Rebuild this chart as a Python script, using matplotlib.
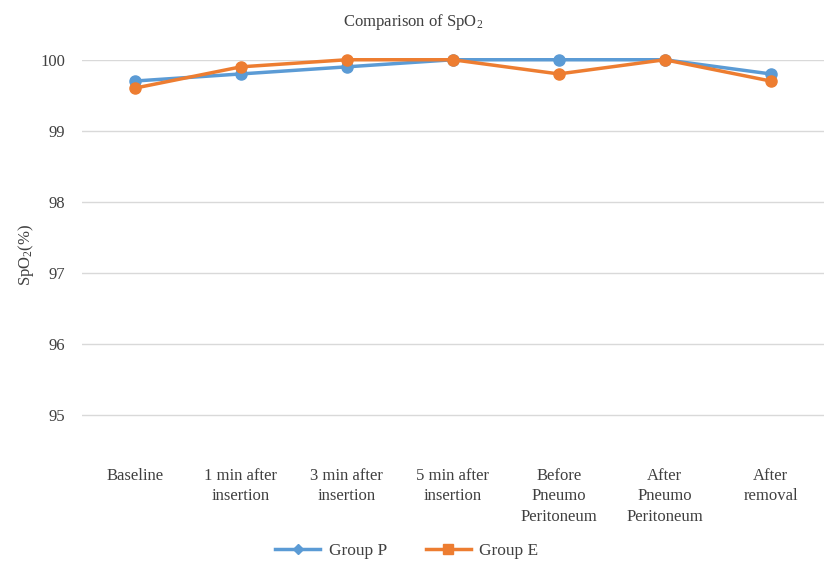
import matplotlib
matplotlib.use("Agg")
import matplotlib.pyplot as plt
from matplotlib.lines import Line2D

# Datos del gráfico
categorias = ["Baseline", "1 min after\ninsertion", "3 min after\ninsertion", "5 min after\ninsertion",
              "Before\nPneumo\nPeritoneum", "After\nPneumo\nPeritoneum", "After\nremoval"]
grupo_p = [99.7, 99.8, 99.9, 100.0, 100.0, 100.0, 99.8]
grupo_e = [99.6, 99.9, 100.0, 100.0, 99.8, 100.0, 99.7]
yticks = [95, 96, 97, 98, 99, 100]

azul = "#5B9BD5"
naranja = "#ED7D31"

plt.rcParams['font.family'] = ['Liberation Serif', 'DejaVu Serif']
plt.rcParams['mathtext.default'] = 'regular'

fig = plt.figure(figsize=(8.27, 5.69), dpi=100)
ax = fig.add_axes([0.099, 0.209, 0.897, 0.686])

x = range(len(categorias))
ax.plot(x, grupo_p, color=azul, lw=2.5, marker="o", ms=8, clip_on=False, zorder=3)
ax.plot(x, grupo_e, color=naranja, lw=2.5, marker="o", ms=8, clip_on=False, zorder=4)

ax.set_xlim(-0.5, len(categorias) - 0.5)
ax.set_ylim(94.5, 100)
ax.set_yticks(yticks)
ax.set_xticks(list(x))
ax.set_xticklabels(categorias, fontsize=12, color="#404040", linespacing=1.35, va="top")
ax.tick_params(axis="y", labelsize=12, labelcolor="#404040", length=0, pad=12)
ax.tick_params(axis="x", length=0, pad=13)
ax.grid(axis="y", color="#D9D9D9", lw=1)
ax.set_axisbelow(True)
for s in ax.spines.values():
    s.set_visible(False)

ax.set_ylabel("SpO$_2$(%)", fontsize=12, color="#404040", labelpad=3)
fig.text(0.5, 0.962, "Comparison of SpO$_2$", ha="center", va="center", fontsize=12, color="#404040")

handles = [Line2D([], [], color=azul, lw=2.5, marker="D", ms=5),
           Line2D([], [], color=naranja, lw=2.5, marker="s", ms=7)]
fig.legend(handles, ["Group P", "Group E"], loc="center", bbox_to_anchor=(0.492, 0.032), ncol=2,
           frameon=False, fontsize=12.5, handlelength=2.6, handletextpad=0.5, columnspacing=2.2,
           labelcolor="#404040")

fig.savefig("out.png", dpi=100)
